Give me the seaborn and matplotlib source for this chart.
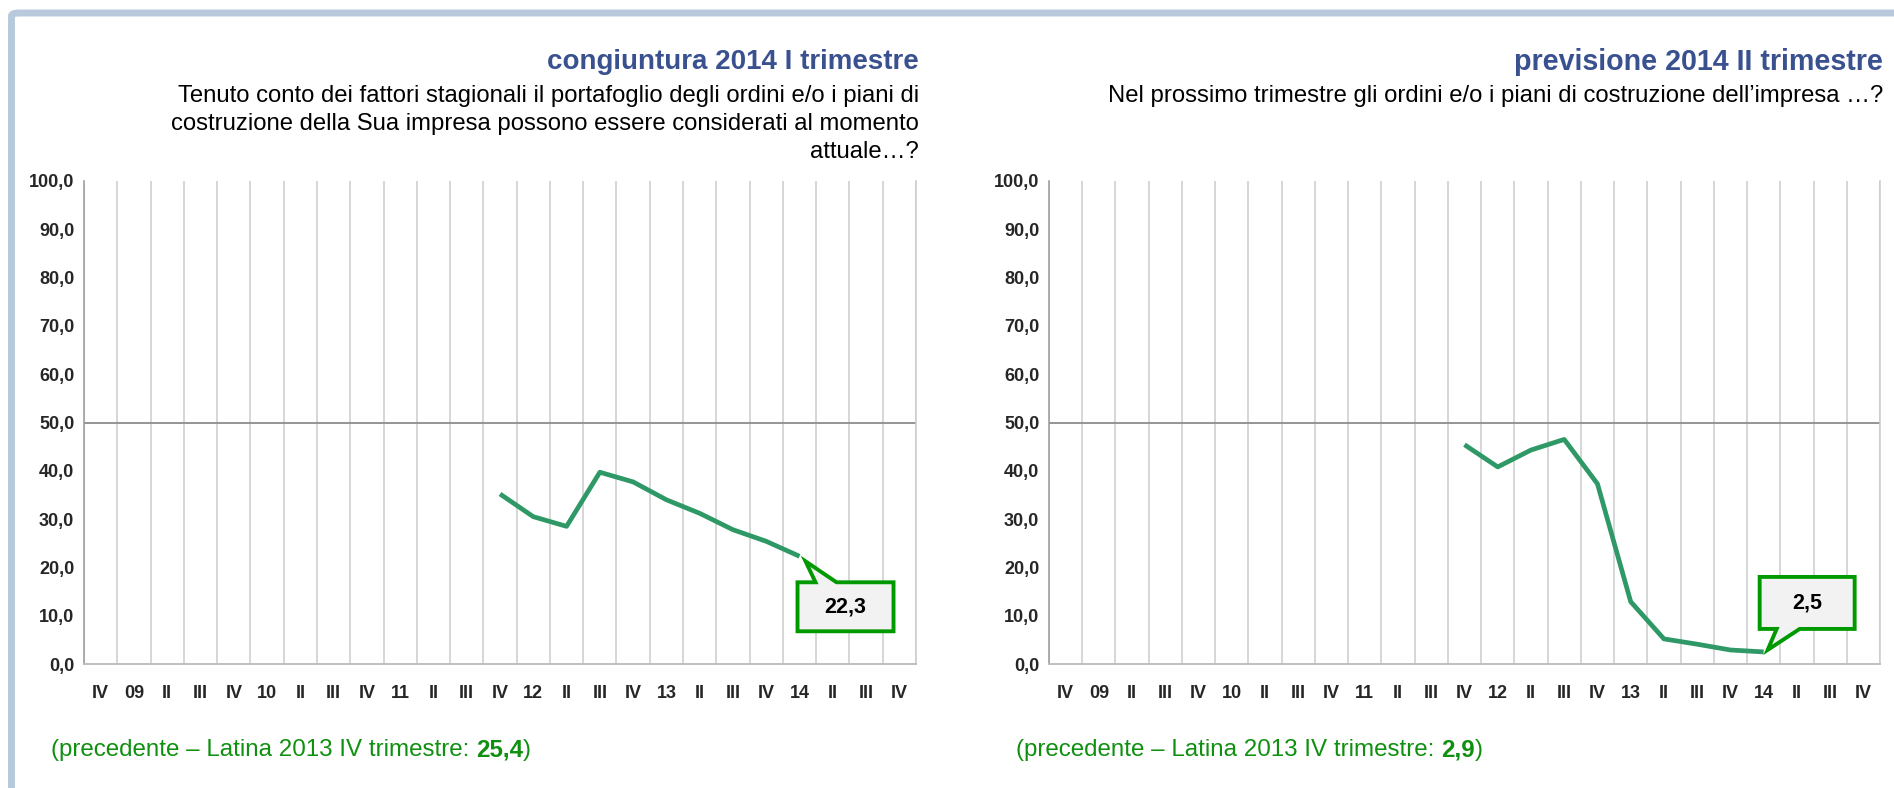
import numpy as np
import pandas as pd
import matplotlib
matplotlib.use("Agg")
import matplotlib.pyplot as plt
import matplotlib.transforms as mtransforms
from matplotlib.patches import FancyBboxPatch, Polygon
from matplotlib.ticker import FuncFormatter, FixedLocator
import seaborn as sns

# Dati
quarters = ["IV", "09", "II", "III", "IV", "10", "II", "III", "IV", "11", "II", "III",
            "IV", "12", "II", "III", "IV", "13", "II", "III", "IV", "14", "II", "III", "IV"]
start_idx = 12  # IV 2011
congiuntura = [35.2, 30.5, 28.5, 39.7, 37.7, 34.0, 31.2, 27.8, 25.4, 22.3]
previsione = [45.4, 40.8, 44.3, 46.5, 37.3, 12.9, 5.2, 4.1, 2.9, 2.5]
prec_congiuntura = "25,4"
prec_previsione = "2,9"

titles = ["congiuntura 2014 I trimestre", "previsione 2014 II trimestre"]
subtitles = [
    "Tenuto conto dei fattori stagionali il portafoglio degli ordini e/o i piani di\n"
    "costruzione della Sua impresa possono essere considerati al momento\n"
    "attuale\u2026?",
    "Nel prossimo trimestre gli ordini e/o i piani di costruzione dell\u2019impresa \u2026?",
]

sns.set_style("white")
plt.rcParams["font.family"] = ["Liberation Sans", "DejaVu Sans"]

W, H = 1894, 788
fig = plt.figure(figsize=(W / 100, H / 100), dpi=100)

LINE_COL = "#2E9966"
TITLE_COL = "#3A5190"
FOOT_COL = "#109010"
BOX_EDGE = "#009900"

# forma del callout (pixel rispetto al punto, y verso l'alto)
# box sotto a destra con coda verso l'alto / box sopra con coda verso il basso
CALLOUT_BELOW = [(-2, -26), (16, -26), (6, -5), (37, -26), (94, -26),
                 (94, -75), (-2, -75)]
CALLOUT_ABOVE = [(-4, 23), (13, 23), (4, 2), (36, 23), (91, 23),
                 (91, 75), (-4, 75)]


def fx(px):
    return px / W


def fy(py):
    return 1 - py / H


def num_fmt(v, pos=None):
    return f"{v:.1f}".replace(".", ",")


def draw_panel(left_px, right_px, values, title, subtitle, prec, shape, title_size):
    ax = fig.add_axes([fx(left_px), fy(664), fx(right_px - left_px), (664 - 181) / H])
    df = pd.DataFrame({"pos": np.arange(start_idx, start_idx + len(values)),
                       "val": values})
    sns.lineplot(data=df, x="pos", y="val", ax=ax, color=LINE_COL, lw=3.4,
                 solid_capstyle="butt", zorder=3)
    ax.set_xlim(-0.5, len(quarters) - 0.5)
    ax.set_ylim(0, 100)
    ax.set_xlabel("")
    ax.set_ylabel("")

    ax.set_xticks(range(len(quarters)))
    ax.set_xticklabels(quarters, fontsize=13, fontweight="bold")
    ax.xaxis.set_minor_locator(FixedLocator(np.arange(-0.5, len(quarters), 1)))
    ax.tick_params(axis="x", which="both", length=0, pad=15)
    ax.grid(False)
    ax.grid(True, which="minor", axis="x", color="#CCCCCC", lw=1.1)

    ax.set_yticks(np.arange(0, 101, 10))
    ax.yaxis.set_major_formatter(FuncFormatter(num_fmt))
    ax.tick_params(axis="y", length=4, width=1, color="#999999", pad=3)
    for lab in ax.get_yticklabels():
        lab.set_fontweight("bold")
        lab.set_fontsize(13)

    ax.axhline(50, color="#8C8C8C", lw=1.3, zorder=2)
    ax.spines["top"].set_visible(False)
    ax.spines["right"].set_color("#CCCCCC")
    ax.spines["right"].set_linewidth(1.1)
    ax.spines["left"].set_color("#999999")
    ax.spines["bottom"].set_color("#BBBBBB")
    ax.spines["left"].set_linewidth(1.1)
    ax.spines["bottom"].set_linewidth(1.3)

    # callout sull'ultimo valore
    last_x = start_idx + len(values) - 1
    last_y = values[-1]
    trans = fig.dpi_scale_trans + mtransforms.ScaledTranslation(last_x, last_y, ax.transData)
    verts = [(px / 100, py / 100) for px, py in shape]
    callout = Polygon(verts, closed=True, transform=trans, fc="#F2F2F2",
                      ec=BOX_EDGE, lw=2.8, joinstyle="miter", zorder=5, clip_on=False)
    ax.add_patch(callout)
    cx = (shape[4][0] + shape[0][0]) / 2 * 0.72
    cy = (shape[5][1] + shape[0][1]) / 2 * 0.72
    ax.annotate(num_fmt(last_y), xy=(last_x, last_y), xytext=(cx, cy),
                textcoords="offset points", ha="center", va="center",
                fontsize=15.5, fontweight="bold", color="black", zorder=6,
                annotation_clip=False)

    fig.text(fx(right_px + 3), fy(62), title, ha="right", va="center",
             fontsize=title_size, fontweight="bold", color=TITLE_COL)
    fig.text(fx(right_px + 3), fy(85), subtitle, ha="right", va="top",
             multialignment="right", fontsize=17.2, linespacing=1.36, color="black")

    t1 = fig.text(fx(left_px - 33), fy(750), "(precedente \u2013 Latina 2013 IV trimestre: ",
                  ha="left", va="center", fontsize=17.4, color=FOOT_COL)
    a2 = ax.annotate(prec, xy=(1, 0), xycoords=t1, ha="left", va="bottom",
                     fontsize=17.4, fontweight="bold", color=FOOT_COL,
                     annotation_clip=False)
    ax.annotate(")", xy=(1, 0), xycoords=a2, ha="left", va="bottom",
                fontsize=17.4, color=FOOT_COL, annotation_clip=False)
    return ax


draw_panel(84, 916, congiuntura, titles[0], subtitles[0], prec_congiuntura,
           CALLOUT_BELOW, 20)
draw_panel(1049, 1880, previsione, titles[1], subtitles[1], prec_previsione,
           CALLOUT_ABOVE, 20.6)

# cornice
frame = FancyBboxPatch((fx(11.5), fy(H + 30)), fx(W + 40), (H + 30 - 13) / H,
                       boxstyle="round,pad=0,rounding_size=0.004",
                       transform=fig.transFigure, fc="none", ec="#B8C9DC", lw=5,
                       zorder=0)
fig.patches.append(frame)

fig.savefig("out.png", dpi=100)
